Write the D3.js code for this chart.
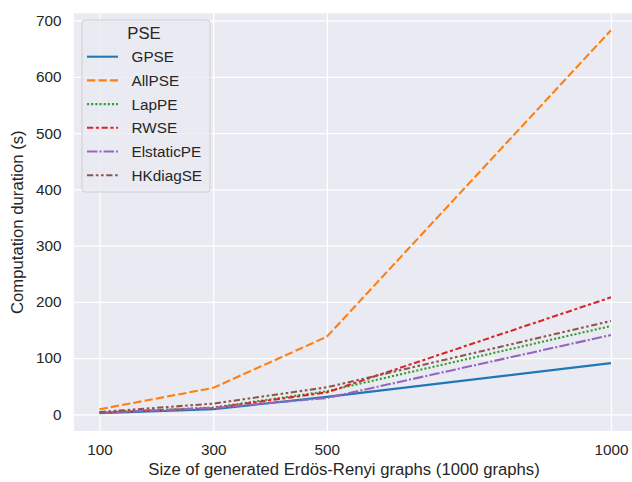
<!DOCTYPE html>
<html>
<head>
<meta charset="utf-8">
<script src="https://cdn.jsdelivr.net/npm/d3@7"></script>
<style>
  body { margin: 0; background: #fff; }
  svg text { font-family: "Liberation Sans", Arial, sans-serif; fill: #262626; }
</style>
</head>
<body>
<svg id="canvas"></svg>
<script>
// graph sizes on the x axis
let sizes = [100, 300, 500, 1000]
let xTicks = [100, 300, 500, 1000]
let yTicks = [0, 100, 200, 300, 400, 500, 600, 700]

// computation durations (s) per encoding
let methods = ['GPSE', 'AllPSE', 'LapPE', 'RWSE', 'ElstaticPE', 'HKdiagSE']
let gpse = [2, 9, 31, 91]
let allpse = [9, 47, 138, 683]
let lappe = [3, 12, 41, 157]
let rwse = [3, 11, 39, 208]
let elstatic = [3, 11, 29, 141]
let hkdiag = [4, 19, 48, 166]

let seriesValues = [gpse, allpse, lappe, rwse, elstatic, hkdiag]

let colors = ['#1f77b4', '#ff7f0e', '#2ca02c', '#d62728', '#9467bd', '#8c564b']
let lw = 2.08
let dashes = [
    [],
    [4, 1.5],
    [1, 1],
    [3, 1.25, 1.5, 1.25],
    [5, 1, 1, 1],
    [3, 1.25, 1.25, 1.25, 1.25, 1.25]
].map(d => d.map(v => (v * lw).toFixed(2)).join(','))

let width = 632
let height = 482

let plotLeft = 74
let plotRight = 636.5
let plotTop = 13.3
let plotBottom = 431

let canvas = d3.select('#canvas')
canvas.attr('width', width).attr('height', height)

let xScale = d3.scaleLinear()
    .domain([55, 1045])
    .range([plotLeft, plotRight])

let yScale = d3.scaleLinear()
    .domain([-29.7, 713.2])
    .range([plotBottom, plotTop])

// plot background
canvas.append('rect')
    .attr('x', plotLeft)
    .attr('y', plotTop)
    .attr('width', plotRight - plotLeft)
    .attr('height', plotBottom - plotTop)
    .attr('fill', '#eaeaf2')

// grid
let xAxis = d3.axisBottom(xScale)
    .tickValues(xTicks)
    .tickSize(-(plotBottom - plotTop))
    .tickPadding(13)
    .tickFormat(d3.format('d'))

canvas.append('g')
    .attr('id', 'x-axis')
    .attr('transform', `translate(0, ${plotBottom})`)
    .call(xAxis)

let yAxis = d3.axisLeft(yScale)
    .tickValues(yTicks)
    .tickSize(-(plotRight - plotLeft))
    .tickPadding(12.5)

canvas.append('g')
    .attr('id', 'y-axis')
    .attr('transform', `translate(${plotLeft}, 0)`)
    .call(yAxis)

canvas.selectAll('.domain').remove()
canvas.selectAll('.tick line').attr('stroke', '#fff').attr('stroke-width', 1.3)
canvas.selectAll('.tick text')
    .attr('font-size', '15.3px')
    .attr('font-family', '"Liberation Sans", Arial, sans-serif')
    .attr('fill', '#262626')

// lines
let line = d3.line()
    .x((d, i) => xScale(sizes[i]))
    .y((d) => yScale(d))

let clip = canvas.append('clipPath').attr('id', 'plotclip')
clip.append('rect')
    .attr('x', plotLeft).attr('y', plotTop)
    .attr('width', plotRight - plotLeft).attr('height', plotBottom - plotTop)

canvas.append('g')
    .attr('clip-path', 'url(#plotclip)')
    .selectAll('path')
    .data(seriesValues)
    .enter()
    .append('path')
    .attr('d', (d) => line(d))
    .attr('fill', 'none')
    .attr('stroke', (d, i) => colors[i])
    .attr('stroke-width', lw)
    .attr('stroke-dasharray', (d, i) => dashes[i] || null)

// axis labels
canvas.append('text')
    .attr('x', 344)
    .attr('y', 475)
    .attr('text-anchor', 'middle')
    .attr('font-size', '16.7px')
    .text('Size of generated Erdös-Renyi graphs (1000 graphs)')

canvas.append('text')
    .attr('transform', `translate(23, ${(plotTop + plotBottom) / 2}) rotate(-90)`)
    .attr('text-anchor', 'middle')
    .attr('font-size', '16.7px')
    .text('Computation duration (s)')

// legend
let legend = canvas.append('g').attr('id', 'legend')

legend.append('rect')
    .attr('x', 82)
    .attr('y', 20)
    .attr('width', 128)
    .attr('height', 172)
    .attr('rx', 3)
    .attr('fill', 'rgba(234,234,242,0.8)')
    .attr('stroke', '#d0d0d0')
    .attr('stroke-width', 1)

legend.append('text')
    .attr('x', 144)
    .attr('y', 38.5)
    .attr('text-anchor', 'middle')
    .attr('font-size', '16.7px')
    .text('PSE')

let items = legend.selectAll('.item')
    .data(methods)
    .enter()
    .append('g')
    .attr('class', 'item')
    .attr('transform', (d, i) => `translate(0, ${56.7 + i * 23.7})`)

items.append('line')
    .attr('x1', 87)
    .attr('x2', 118)
    .attr('y1', 0)
    .attr('y2', 0)
    .attr('stroke', (d, i) => colors[i])
    .attr('stroke-width', lw)
    .attr('stroke-dasharray', (d, i) => dashes[i] || null)

items.append('text')
    .attr('x', 131.5)
    .attr('y', 5.5)
    .attr('font-size', '15.3px')
    .text((d) => d)
</script>
</body>
</html>
